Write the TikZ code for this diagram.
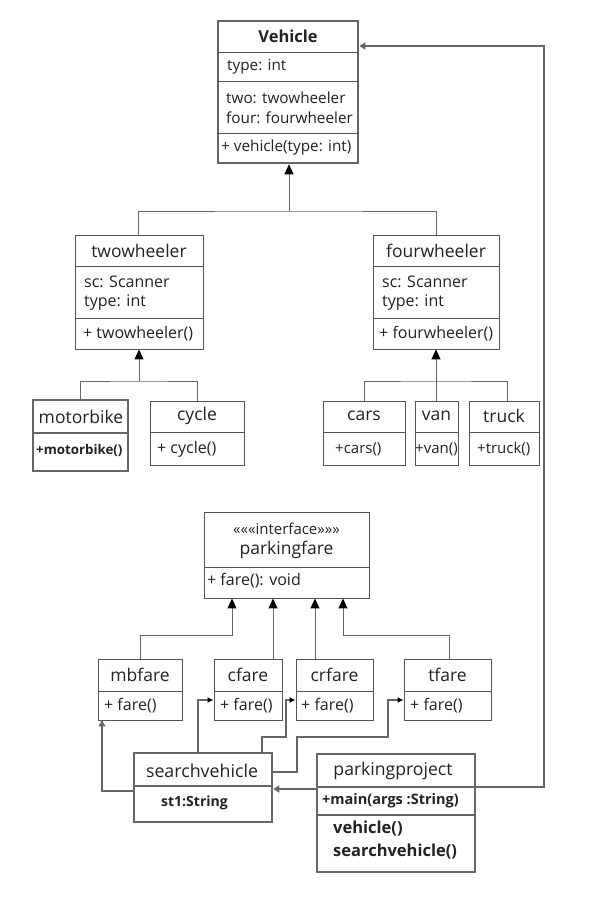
\documentclass[tikz,border=0pt]{standalone}
\usepackage{fontspec}
\setmainfont{Open Sans}
\usetikzlibrary{arrows.meta}
\definecolor{ink}{HTML}{222222}
\definecolor{edge}{HTML}{555555}
\definecolor{wire}{HTML}{666666}
\tikzset{
  box/.style={draw=edge, line width=0.9pt, inner sep=0pt},
  heavybox/.style={draw=edge!90, line width=2.6pt, inner sep=0pt},
  div/.style={draw=edge, line width=0.9pt},
  heavydiv/.style={draw=edge!90, line width=2.2pt},
  title/.style={text=ink, font=\fontsize{17.5}{19}\selectfont, inner sep=0pt},
  member/.style={text=ink, font=\fontsize{16}{18}\selectfont, inner sep=0pt, anchor=west},
  boldmember/.style={text=ink, font=\bfseries\fontsize{14.5}{16}\selectfont, inner sep=0pt, anchor=west},
  gen/.style={draw=wire, line width=1pt, -{Triangle[color=black,width=9pt,length=10pt]}},
  link/.style={draw=wire, line width=1pt},
  uses/.style={draw=wire, line width=2pt, -{Latex[color=black,width=6pt,length=6pt]}},
  assoc/.style={draw=wire, line width=2pt, -{Triangle[color=wire,width=7pt,length=6pt]}},
}
\begin{document}
\begin{tikzpicture}[x=1pt,y=-1pt]
\useasboundingbox[fill=white] (0,0) rectangle (592,910);

% ---------- Vehicle ----------
\node[heavybox, minimum width=140pt, minimum height=142pt] (vehicle) at (288,92) {};
\draw[div] (vehicle.west |- 0,52) -- (vehicle.east |- 0,52);
\draw[div] (vehicle.west |- 0,81) -- (vehicle.east |- 0,81);
\draw[div] (vehicle.west |- 0,133) -- (vehicle.east |- 0,133);
\node[title, font=\bfseries\fontsize{16.5}{18}\selectfont] (vt) at (288,36) {Vehicle};
\node[member, font=\fontsize{15.3}{17}\selectfont] (v1) at (227,67) {type: int};
\node[member, font=\fontsize{15.3}{17}\selectfont] (v2) at (226,98) {two: twowheeler};
\node[member, font=\fontsize{15.3}{17}\selectfont] (v3) at (226,118) {four: fourwheeler};
\node[member, font=\fontsize{15.3}{17}\selectfont] (v4) at (221,148) {+ vehicle(type: int)};

% ---------- twowheeler / fourwheeler ----------
\node[box, minimum width=128pt, minimum height=114pt] (two) at (139,292) {};
\draw[div] (two.west |- 0,266) -- (two.east |- 0,266);
\draw[div] (two.west |- 0,318) -- (two.east |- 0,318);
\node[title] (twot) at (139,251) {twowheeler};
\node[member] (two1) at (84,282) {sc: Scanner};
\node[member] (two2) at (84,303) {type: int};
\node[member] (two3) at (83,334) {+ twowheeler()};

\node[box, minimum width=126pt, minimum height=114pt] (four) at (436,292) {};
\draw[div] (four.west |- 0,266) -- (four.east |- 0,266);
\draw[div] (four.west |- 0,318) -- (four.east |- 0,318);
\node[title] (fourt) at (436,251) {fourwheeler};
\node[member] (four1) at (382,282) {sc: Scanner};
\node[member] (four2) at (382,303) {type: int};
\node[member] (four3) at (379,334) {+ fourwheeler()};

% ---------- concrete vehicles ----------
\node[heavybox, minimum width=95pt, minimum height=71pt] (motor) at (80.5,435.5) {};
\draw[heavydiv] (motor.west |- 0,433) -- (motor.east |- 0,433);
\node[title] (motort) at (81,417) {motorbike};
\node[boldmember, font=\bfseries\fontsize{13.3}{15}\selectfont] (motor1) at (36,450) {+motorbike()};

\node[box, minimum width=94pt, minimum height=64pt] (cycle) at (197,433) {};
\draw[div] (cycle.west |- 0,432) -- (cycle.east |- 0,432);
\node[title] (cyclet) at (197,416) {cycle};
\node[member] (cycle1) at (157,449) {+ cycle()};

\node[box, minimum width=82pt, minimum height=64pt] (cars) at (364,433) {};
\draw[div] (cars.west |- 0,432) -- (cars.east |- 0,432);
\node[title] (carst) at (364,416) {cars};
\node[member, font=\fontsize{15}{17}\selectfont] (cars1) at (335,449) {+cars()};

\node[box, minimum width=43pt, minimum height=64pt] (van) at (436.5,433) {};
\draw[div] (van.west |- 0,432) -- (van.east |- 0,432);
\node[title] (vant) at (436.5,416) {van};
\node[member, font=\fontsize{15}{17}\selectfont] (van1) at (415,449) {+van()};

\node[box, minimum width=70pt, minimum height=64pt] (truck) at (504,433) {};
\draw[div] (truck.west |- 0,432) -- (truck.east |- 0,432);
\node[title] (truckt) at (504,416) {truck};
\node[member, font=\fontsize{15}{17}\selectfont] (truck1) at (477,449) {+truck()};

% ---------- parkingfare interface ----------
\node[box, minimum width=165pt, minimum height=86pt] (pf) at (286.5,555) {};
\draw[div] (pf.west |- 0,567) -- (pf.east |- 0,567);
\node[title, font=\fontsize{15}{17}\selectfont] (pft1) at (286.5,529) {«««interface»»»};
\node[title] (pft2) at (286.5,550) {parkingfare};
\node[member] (pf1) at (207,581) {+ fare(): void};

% ---------- fare classes ----------
\node[box, minimum width=84pt, minimum height=61pt] (mb) at (140,689.5) {};
\draw[div] (mb.west |- 0,691) -- (mb.east |- 0,691);
\node[title] (mbt) at (140,675) {mbfare};
\node[member] (mb1) at (104,706) {+ fare()};

\node[box, minimum width=68pt, minimum height=61pt] (cf) at (248,689.5) {};
\draw[div] (cf.west |- 0,691) -- (cf.east |- 0,691);
\node[title] (cft) at (248,675) {cfare};
\node[member] (cf1) at (220,706) {+ fare()};

\node[box, minimum width=77pt, minimum height=61pt] (crf) at (334.5,689.5) {};
\draw[div] (crf.west |- 0,691) -- (crf.east |- 0,691);
\node[title] (crft) at (334.5,675) {crfare};
\node[member] (crf1) at (301,706) {+ fare()};

\node[box, minimum width=87pt, minimum height=61pt] (tf) at (447.5,689.5) {};
\draw[div] (tf.west |- 0,691) -- (tf.east |- 0,691);
\node[title] (tft) at (447.5,675) {tfare};
\node[member] (tf1) at (410,706) {+ fare()};

% ---------- searchvehicle / parkingproject ----------
\node[heavybox, minimum width=138pt, minimum height=69pt] (sv) at (203,787.5) {};
\draw[heavydiv] (sv.west |- 0,786) -- (sv.east |- 0,786);
\node[title, font=\fontsize{17.8}{19}\selectfont] (svt) at (202,771) {searchvehicle};
\node[boldmember, font=\bfseries\fontsize{14}{16}\selectfont] (sv1) at (161,803) {st1:String};

\node[heavybox, minimum width=158pt, minimum height=118pt] (pp) at (396,813) {};
\draw[heavydiv] (pp.west |- 0,787) -- (pp.east |- 0,787);
\draw[heavydiv] (pp.west |- 0,815) -- (pp.east |- 0,815);
\node[title, font=\fontsize{17.6}{19}\selectfont] (ppt) at (393,771) {parkingproject};
\node[boldmember] (pp1) at (322,801) {+main(args :String)};
\node[boldmember, font=\bfseries\fontsize{16.5}{18}\selectfont] (pp2) at (333,829) {vehicle()};
\node[boldmember, font=\bfseries\fontsize{16.5}{18}\selectfont] (pp3) at (333,852) {searchvehicle()};

% ---------- inheritance: Vehicle ----------
\coordinate (vjoin) at (289,211);
\draw[gen] (vjoin) -- (vehicle.south -| vjoin);
\draw[link] (two.north -| 138,0) |- (vjoin) -| (four.north -| 436,0);

% ---------- inheritance: twowheeler ----------
\coordinate (tjoin) at (139,381);
\draw[gen] (tjoin) -- (two.south -| tjoin);
\draw[link] (motor.north -| 80,0) |- (tjoin) -| (cycle.north -| 197,0);

% ---------- inheritance: fourwheeler ----------
\coordinate (fjoin) at (436,381);
\draw[gen] (van.north -| fjoin) -- (four.south -| fjoin);
\draw[link] (cars.north -| 364,0) |- (fjoin) -| (truck.north -| 507,0);

% ---------- realisation of parkingfare ----------
\draw[gen] (mb.north -| 140,0) |- (232,635) -- (pf.south -| 232,0);
\draw[gen] (cf.north -| 273,0) -- (pf.south -| 273,0);
\draw[gen] (crf.north -| 315,0) -- (pf.south -| 315,0);
\draw[gen] (tf.north -| 449,0) |- (343,635) -- (pf.south -| 343,0);

% ---------- searchvehicle uses the fares ----------
\draw[assoc] (sv.west |- 0,791) -| (102,721) -- (mb.south -| 102,0);
\draw[uses] (sv.north -| 198,0) |- (cf.west |- 0,700);
\draw[uses] (sv.north -| 262,0) |- (286,737) |- (crf.west |- 0,700);
\draw[uses] (sv.east |- 0,772) -| (297,737) -| (388,700) -- (tf.west |- 0,700);

% ---------- parkingproject associations ----------
\draw[assoc] (pp.west |- 0,789) -- (sv.east |- 0,789);
\coordinate (rail) at (544,787);
\draw[assoc] (pp.east |- rail) -- (rail) |- (vehicle.east |- 0,46);
\end{tikzpicture}
\end{document}
